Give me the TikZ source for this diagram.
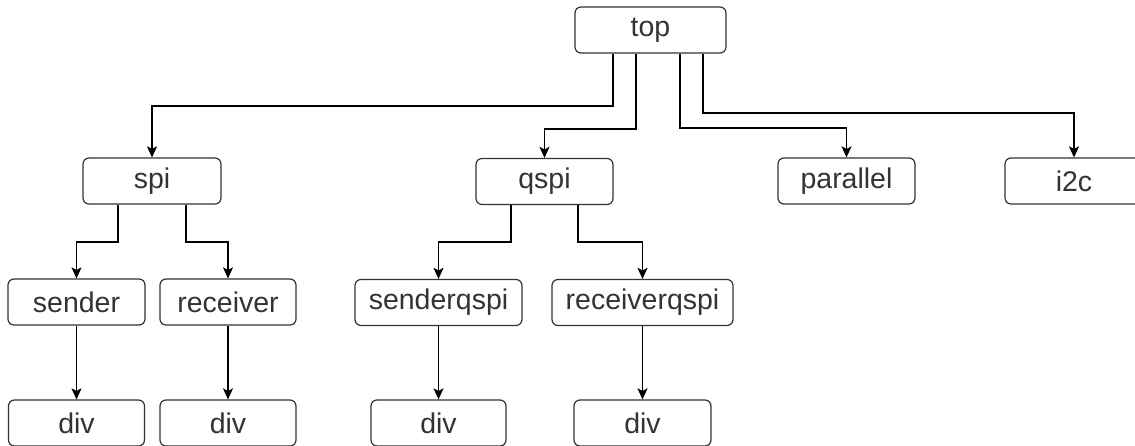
\documentclass[tikz,border=0pt]{standalone}
\usepackage{fontspec}
\setmainfont{Liberation Sans}
\usetikzlibrary{arrows.meta,calc}

\definecolor{boxline}{HTML}{333333}
\definecolor{boxtext}{HTML}{333333}

\tikzset{
  box/.style={draw=boxline, line width=1.2pt, rounded corners=6pt,
    minimum height=46pt, inner sep=0pt, text=boxtext,
    font=\fontsize{28.5}{32}\selectfont},
  link/.style={draw=black, line width=1.1pt,
    -{Stealth[length=11pt,width=10pt,inset=2.5pt]}},
}

\begin{document}
\begin{tikzpicture}[x=1pt,y=-1pt]
\useasboundingbox (0,0) rectangle (1135,446);

% root
\node[box, minimum width=151pt] (top) at (650.5,30) {top};

% second level
\node[box, minimum width=138pt] (spi)      at (152,181)    {spi};
\node[box, minimum width=137pt] (qspi)     at (544.5,181.5) {qspi};
\node[box, minimum width=137pt] (parallel) at (846.5,181)  {parallel};
\node[box, minimum width=138pt] (i2c)      at (1074,181)   {i2c};

% third level
\node[box, minimum width=137pt] (sender)       at (76.5,302)  {sender};
\node[box, minimum width=136pt] (receiver)     at (228,302)   {receiver};
\node[box, minimum width=167pt] (senderqspi)   at (438.5,302.5) {senderqspi};
\node[box, minimum width=181pt] (receiverqspi) at (642.5,302.5) {receiverqspi};

% leaves
\node[box, minimum width=136pt] (div1) at (76.5,423)  {div};
\node[box, minimum width=136pt] (div2) at (228,423)   {div};
\node[box, minimum width=135pt] (div3) at (438.5,423) {div};
\node[box, minimum width=137pt] (div4) at (642.5,423) {div};

% root to second level
\draw[link] ([xshift=-37.5pt]top.south) |- (spi.north |- 0,106) -- (spi.north);
\draw[link] ([xshift=-14.5pt]top.south) |- (qspi.north |- 0,129) -- (qspi.north);
\draw[link] ([xshift=29.5pt]top.south)  |- (parallel.north |- 0,128) -- (parallel.north);
\draw[link] ([xshift=52.5pt]top.south)  |- (i2c.north |- 0,113) -- (i2c.north);

% spi branch
\draw[link] ([xshift=-34pt]spi.south) |- (sender.north |- 0,242) -- (sender.north);
\draw[link] ([xshift=34pt]spi.south)  |- (receiver.north |- 0,242) -- (receiver.north);

% qspi branch
\draw[link] ([xshift=-33.5pt]qspi.south) |- (senderqspi.north |- 0,242) -- (senderqspi.north);
\draw[link] ([xshift=33.5pt]qspi.south)  |- (receiverqspi.north |- 0,242) -- (receiverqspi.north);

% leaves
\draw[link] (sender.south)       -- (div1.north);
\draw[link] (receiver.south)     -- (div2.north);
\draw[link] (senderqspi.south)   -- (div3.north);
\draw[link] (receiverqspi.south) -- (div4.north);
\end{tikzpicture}
\end{document}
